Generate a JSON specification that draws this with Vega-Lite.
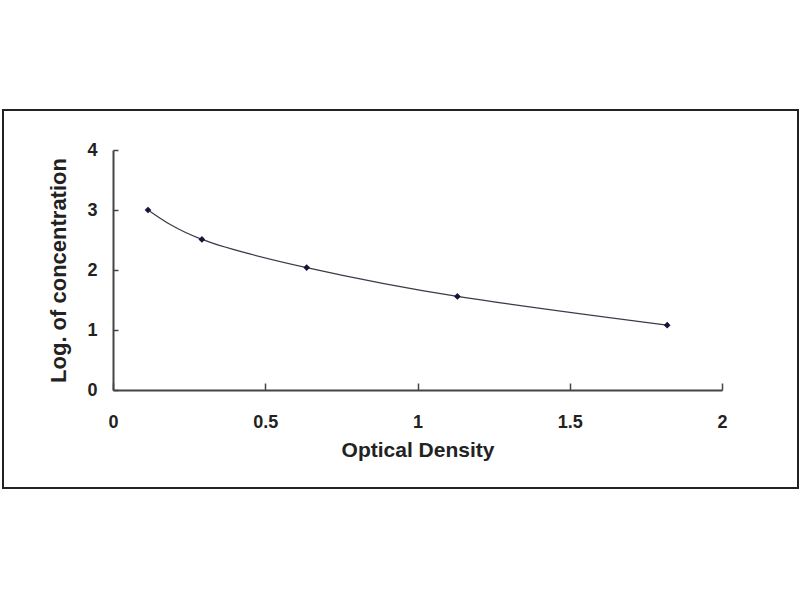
{
  "$schema": "https://vega.github.io/schema/vega-lite/v6.json",
  "width": 795,
  "height": 378,
  "autosize": "none",
  "padding": {"left": 3, "top": 110, "right": 2, "bottom": 112},
  "background": "white",
  "data": {
    "values": [
      {"od": 0.115, "logc": 3.0},
      {"od": 0.292, "logc": 2.51},
      {"od": 0.636, "logc": 2.04},
      {"od": 1.131, "logc": 1.56},
      {"od": 1.82, "logc": 1.08}
    ]
  },
  "encoding": {
    "x": {
      "field": "od",
      "type": "quantitative",
      "title": "Optical Density",
      "scale": {"domain": [0, 2], "range": [110, 719], "nice": false},
      "axis": {
        "values": [0, 0.5, 1, 1.5, 2],
        "format": "~g",
        "labelFlush": false,
        "offset": -98,
        "grid": false,
        "tickSize": -7,
        "labelPadding": 30,
        "titlePadding": 8,
        "titleFontSize": 21
      }
    },
    "y": {
      "field": "logc",
      "type": "quantitative",
      "title": "Log. of concentration",
      "scale": {"domain": [0, 4], "range": [280, 40], "nice": false},
      "axis": {
        "values": [0, 1, 2, 3, 4],
        "offset": -110,
        "grid": false,
        "tickSize": -5,
        "labelPadding": 21,
        "titlePadding": 16,
        "titleFontSize": 22
      }
    }
  },
  "layer": [
    {
      "mark": {"type": "line", "interpolate": "natural", "color": "#3a3a4a", "strokeWidth": 1.2}
    },
    {
      "mark": {"type": "point", "shape": "diamond", "filled": true, "color": "#15153a", "size": 45, "opacity": 1}
    }
  ],
  "config": {
    "view": {"stroke": "#222222", "strokeWidth": 2},
    "axis": {
      "domainColor": "#444444",
      "domainWidth": 2,
      "tickColor": "#444444",
      "tickWidth": 1.5,
      "labelFont": "Liberation Sans",
      "titleFont": "Liberation Sans",
      "labelFontSize": 18,
      "labelFontWeight": "bold",
      "labelColor": "#222222",
      "titleFontWeight": "bold",
      "titleColor": "#222222"
    }
  }
}
